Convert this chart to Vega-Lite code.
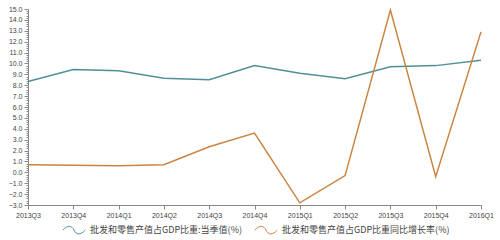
{
  "$schema": "https://vega.github.io/schema/vega-lite/v6.json",
  "autosize": {"type": "none"},
  "width": 453,
  "height": 196,
  "padding": {"left": 28, "top": 9, "right": 19, "bottom": 35},
  "background": "white",
  "config": {
    "view": {"stroke": null},
    "font": "Noto Sans CJK SC",
    "axis": {"grid": false, "domainColor": "#888", "tickColor": "#888", "labelColor": "#444", "labelFont": "Liberation Sans", "labelFontSize": 7}
  },
  "data": {"values": [
    {"q": "2013Q3", "s": "批发和零售产值占GDP比重:当季值(%)", "v": 8.35},
    {"q": "2013Q4", "s": "批发和零售产值占GDP比重:当季值(%)", "v": 9.45},
    {"q": "2014Q1", "s": "批发和零售产值占GDP比重:当季值(%)", "v": 9.32},
    {"q": "2014Q2", "s": "批发和零售产值占GDP比重:当季值(%)", "v": 8.65},
    {"q": "2014Q3", "s": "批发和零售产值占GDP比重:当季值(%)", "v": 8.5},
    {"q": "2014Q4", "s": "批发和零售产值占GDP比重:当季值(%)", "v": 9.8},
    {"q": "2015Q1", "s": "批发和零售产值占GDP比重:当季值(%)", "v": 9.1},
    {"q": "2015Q2", "s": "批发和零售产值占GDP比重:当季值(%)", "v": 8.6},
    {"q": "2015Q3", "s": "批发和零售产值占GDP比重:当季值(%)", "v": 9.7},
    {"q": "2015Q4", "s": "批发和零售产值占GDP比重:当季值(%)", "v": 9.8},
    {"q": "2016Q1", "s": "批发和零售产值占GDP比重:当季值(%)", "v": 10.3},
    {"q": "2013Q3", "s": "批发和零售产值占GDP比重同比增长率(%)", "v": 0.7},
    {"q": "2013Q4", "s": "批发和零售产值占GDP比重同比增长率(%)", "v": 0.65},
    {"q": "2014Q1", "s": "批发和零售产值占GDP比重同比增长率(%)", "v": 0.6},
    {"q": "2014Q2", "s": "批发和零售产值占GDP比重同比增长率(%)", "v": 0.7},
    {"q": "2014Q3", "s": "批发和零售产值占GDP比重同比增长率(%)", "v": 2.35},
    {"q": "2014Q4", "s": "批发和零售产值占GDP比重同比增长率(%)", "v": 3.6},
    {"q": "2015Q1", "s": "批发和零售产值占GDP比重同比增长率(%)", "v": -2.8},
    {"q": "2015Q2", "s": "批发和零售产值占GDP比重同比增长率(%)", "v": -0.3},
    {"q": "2015Q3", "s": "批发和零售产值占GDP比重同比增长率(%)", "v": 14.9},
    {"q": "2015Q4", "s": "批发和零售产值占GDP比重同比增长率(%)", "v": -0.4},
    {"q": "2016Q1", "s": "批发和零售产值占GDP比重同比增长率(%)", "v": 12.9}
  ]},
  "mark": {"type": "line", "strokeWidth": 1.5},
  "encoding": {
    "x": {"field": "q", "type": "ordinal", "sort": null, "title": null,
      "scale": {"type": "point", "padding": 0},
      "axis": {"labelAngle": 0, "tickSize": 4, "labelPadding": 2}},
    "y": {"field": "v", "type": "quantitative", "title": null,
      "scale": {"domain": [-3, 15], "nice": false, "zero": false},
      "axis": {
        "values": [-3,-2.8,-2.6,-2.4,-2.2,-2,-1.8,-1.6,-1.4,-1.2,-1,-0.8,-0.6,-0.4,-0.2,0,0.2,0.4,0.6,0.8,1,1.2,1.4,1.6,1.8,2,2.2,2.4,2.6,2.8,3,3.2,3.4,3.6,3.8,4,4.2,4.4,4.6,4.8,5,5.2,5.4,5.6,5.8,6,6.2,6.4,6.6,6.8,7,7.2,7.4,7.6,7.8,8,8.2,8.4,8.6,8.8,9,9.2,9.4,9.6,9.8,10,10.2,10.4,10.6,10.8,11,11.2,11.4,11.6,11.8,12,12.2,12.4,12.6,12.8,13,13.2,13.4,13.6,13.8,14,14.2,14.4,14.6,14.8,15],
        "labelExpr": "abs(datum.value - round(datum.value)) < 0.01 ? format(datum.value, '.1f') : ''",
        "tickSize": {"condition": {"test": "abs(datum.value - round(datum.value)) < 0.01", "value": 4}, "value": 2},
        "labelOverlap": false,
        "labelPadding": 2
      }},
    "color": {"field": "s", "type": "nominal", "title": null,
      "scale": {"domain": ["批发和零售产值占GDP比重:当季值(%)", "批发和零售产值占GDP比重同比增长率(%)"], "range": ["#4e9097", "#c98540"]},
      "legend": {"orient": "none", "legendX": 34, "legendY": 209, "direction": "horizontal",
        "symbolType": "M -1 0 C -0.6 -0.45 -0.2 -0.45 0 0 C 0.2 0.45 0.6 0.45 1 0",
        "symbolSize": 500, "symbolStrokeWidth": 1, "labelFontSize": 9, "labelColor": "#444",
        "columnPadding": 10, "symbolOffset": 0, "labelLimit": 300}}
  }
}
